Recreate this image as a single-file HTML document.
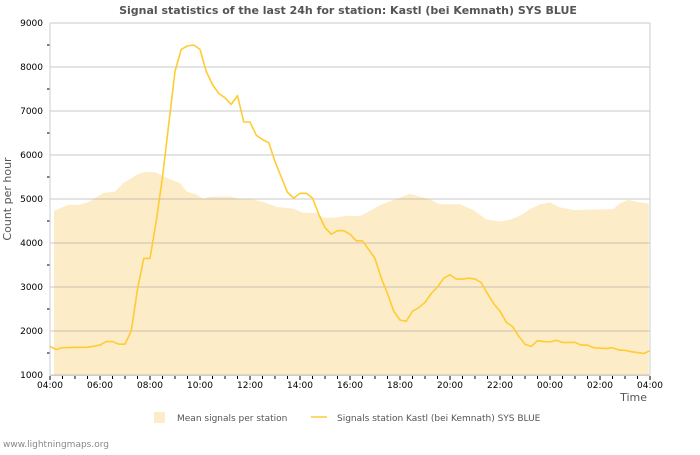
<!DOCTYPE html>
<html><head><meta charset="utf-8"><style>
body{margin:0;background:#fff;font-family:"Liberation Sans","DejaVu Sans",sans-serif}
svg text{font-family:"DejaVu Sans","Liberation Sans",sans-serif}
</style></head><body>
<svg id="chart" width="700" height="450" viewBox="0 0 700 450">
<text x="348" y="14" text-anchor="middle" font-size="11" font-weight="bold" fill="#555">Signal statistics of the last 24h for station: Kastl (bei Kemnath) SYS BLUE</text>
<g id="area"></g><g id="grid"></g><g id="line"></g><g id="axes"></g>
<text transform="translate(11,199) rotate(-90)" text-anchor="middle" font-size="11" fill="#555">Count per hour</text>
<text x="647" y="401" text-anchor="end" font-size="11" fill="#555">Time</text>
<g>
<rect x="154" y="412" width="11" height="11" fill="#fdecc8"/>
<text x="177" y="421" font-size="9" fill="#555">Mean signals per station</text>
<line x1="311" y1="417" x2="327" y2="417" stroke="#ffcc33" stroke-width="1.5"/>
<text x="337" y="421" font-size="9" fill="#555">Signals station Kastl (bei Kemnath) SYS BLUE</text>
</g>
<text x="3" y="447" font-size="9" fill="#888">www.lightningmaps.org</text>
</svg>
<script>
const xTickLabels=["04:00","06:00","08:00","10:00","12:00","14:00","16:00","18:00","20:00","22:00","00:00","02:00","04:00"];
const yTickValues=[1000,2000,3000,4000,5000,6000,7000,8000,9000];
const signalHours=[0,0.25,0.5,1,1.5,2,2.25,2.5,2.75,3,3.25,3.5,3.75,4,4.25,4.5,4.75,5,5.25,5.5,5.75,6,6.25,6.5,6.75,7,7.25,7.5,7.75,8,8.25,8.5,8.75,9,9.25,9.5,9.75,10,10.25,10.5,10.75,11,11.25,11.5,11.75,12,12.25,12.5,12.75,13,13.25,13.5,13.75,14,14.25,14.5,14.75,15,15.25,15.5,15.75,16,16.25,16.5,16.75,17,17.25,17.5,17.75,18,18.25,18.5,18.75,19,19.25,19.5,19.75,20,20.25,20.5,20.75,21,21.25,21.5,21.75,22,22.25,22.5,22.75,23,23.25,23.5,23.75,24];
const signalValues=[1650,1580,1620,1630,1630,1680,1760,1760,1700,1700,2000,2950,3650,3650,4500,5500,6700,7900,8400,8480,8500,8400,7900,7600,7400,7300,7150,7350,6750,6750,6450,6350,6280,5850,5500,5150,5020,5130,5130,5020,4650,4350,4200,4280,4280,4200,4050,4050,3850,3650,3200,2850,2450,2250,2220,2450,2530,2650,2850,3000,3200,3280,3180,3180,3200,3180,3100,2850,2620,2450,2200,2100,1880,1700,1650,1780,1760,1750,1790,1740,1740,1740,1680,1680,1620,1610,1600,1620,1570,1560,1530,1510,1490,1550];
const meanHours=[0.16,0.73,1.2,1.6,2.13,2.6,2.93,3.47,3.73,4.2,4.67,5.2,5.47,5.87,6.13,6.4,7.2,7.6,8.13,8.67,9.07,9.73,10.1,10.67,10.93,11.33,11.87,12.4,12.8,13.2,13.6,14,14.4,14.8,15.2,15.6,16.4,16.93,17.47,18,18.4,18.8,19.2,19.6,20,20.4,20.93,22.53,22.8,23.13,23.6,23.95];
const meanValues=[4730,4870,4870,4945,5135,5170,5360,5550,5610,5610,5480,5360,5170,5100,5000,5050,5060,5000,4990,4910,4820,4780,4690,4680,4570,4570,4620,4610,4730,4860,4950,5030,5120,5050,4990,4880,4880,4750,4530,4490,4530,4620,4770,4880,4920,4810,4750,4770,4900,4980,4920,4900];
const NS="http://www.w3.org/2000/svg";
const X0=50,X1=650,Y0=375,Y1=23,YMIN=1000,YMAX=9000;
const xs=h=>X0+(X1-X0)*h/24;
const ys=v=>Y0-(Y0-Y1)*(v-YMIN)/(YMAX-YMIN);
function mk(tag,attrs,parent){const e=document.createElementNS(NS,tag);for(const k in attrs)e.setAttribute(k,attrs[k]);document.getElementById(parent).appendChild(e);return e;}
let d="M"+xs(meanHours[0])+","+Y0;
meanHours.forEach((h,i)=>{d+=" L"+xs(h)+","+ys(meanValues[i]);});
d+=" L"+xs(meanHours[meanHours.length-1])+","+Y0+" Z";
const ar=mk("path",{d:d,fill:"#fdecc8"},"area");


yTickValues.forEach(v=>{
 const g=mk("line",{x1:X0,x2:X1,y1:ys(v),y2:ys(v),stroke:"rgba(150,150,150,0.5)","stroke-width":1},"grid");
 
 
 const t=mk("text",{x:X0-7,y:ys(v)+3,"text-anchor":"end","font-size":9,fill:"#000"},"axes");
 t.textContent=v;
 
 
});
for(let v=YMIN+500;v<YMAX;v+=1000){mk("line",{x1:X0-3,x2:X0,y1:ys(v),y2:ys(v),stroke:"#000"},"axes");}
mk("line",{x1:X1,x2:X1,y1:Y1,y2:Y0,stroke:"#ccc"},"axes");
mk("line",{x1:X0,x2:X0,y1:Y1,y2:Y0,stroke:"#ccc"},"axes");
mk("line",{x1:X0,x2:X1,y1:Y0+0.5,y2:Y0+0.5,stroke:"#ccc"},"axes");
for(let h=0;h<=24;h+=0.5){mk("line",{x1:xs(h),x2:xs(h),y1:Y0+1,y2:Y0+(h%2==0?5:4),stroke:"#000"},"axes");}
xTickLabels.forEach((l,i)=>{
 const t=mk("text",{x:xs(i*2),y:Y0+13,"text-anchor":"middle","font-size":9,fill:"#000"},"axes");
 t.textContent=l;
 
 
});
const pts=signalHours.map((h,i)=>xs(h)+","+ys(signalValues[i])).join(" ");
const pl=mk("polyline",{points:pts,fill:"none",stroke:"#ffcc33","stroke-width":1.6,"stroke-linejoin":"round"},"line");


</script>
</body></html>
